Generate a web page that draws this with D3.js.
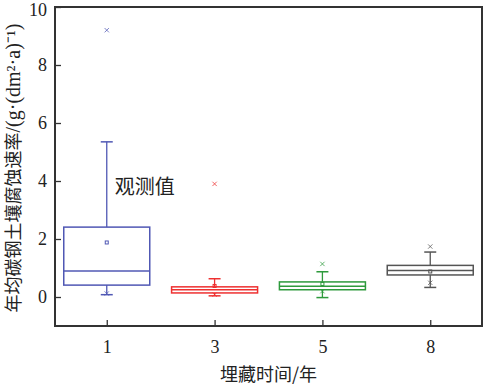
<!DOCTYPE html>
<html>
<head>
<meta charset="utf-8">
<script src="https://cdn.jsdelivr.net/npm/d3@7"></script>
<style>
body { margin: 0; background: #fff; }
text { fill: #222; }
</style>
</head>
<body>
<div id="chart"></div>
<script>
// burial years
var categories = ["1", "3", "5", "8"];
var colors = ["#5058b4", "#ee3030", "#2e9a3c", "#555555"];

// box statistics (corrosion rate)
var q1 = [0.41, 0.14, 0.25, 0.76];
var median = [0.90, 0.25, 0.37, 0.91];
var q3 = [2.41, 0.35, 0.52, 1.09];
var whiskerLow = [0.08, 0.04, -0.02, 0.33];
var whiskerHigh = [5.35, 0.63, 0.87, 1.55];
var means = [1.88, 0.38, 0.45, 0.88];
var highMarks = [9.2, 3.9, 1.14, 1.74];
var lowMarks = [0.12, 0.08, 0.2, 0.49];

var yTicks = [0, 2, 4, 6, 8, 10];

var svgWidth = 488;
var svgHeight = 387;

var margin = { top: 7, right: 6, bottom: 61, left: 55 };
var width = svgWidth - margin.left - margin.right;
var height = svgHeight - margin.top - margin.bottom;

var svg = d3.select("#chart")
    .append("svg")
    .attr("width", svgWidth)
    .attr("height", svgHeight);

var g = svg.append("g")
    .attr("transform", `translate(${margin.left}, ${margin.top})`);

var x = d3.scalePoint()
    .domain(categories)
    .range([0, width])
    .padding(0.48);

var y = d3.scaleLinear()
    .domain([-1, 10])
    .range([height, 0]);

var boxW = 86;
var capW = 12;

// axes with inward ticks
var xAxis = g.append("g")
    .attr("transform", `translate(0, ${height})`)
    .call(d3.axisBottom(x).tickSizeInner(-6).tickSizeOuter(0).tickPadding(14));

var yAxis = g.append("g")
    .call(d3.axisLeft(y).tickValues(yTicks).tickSizeInner(-6).tickSizeOuter(0).tickPadding(8));

[xAxis, yAxis].forEach(function(ax) {
    ax.select(".domain").remove();
    ax.selectAll(".tick line").attr("stroke", "#333").attr("stroke-width", 1.3);
    ax.selectAll(".tick text")
        .attr("font-family", "Liberation Serif, serif")
        .attr("font-size", 18)
        .attr("fill", "#222");
});
// keep the top label inside the page
yAxis.selectAll(".tick text").filter(d => d === 10).attr("dy", "0.45em");

// frame
g.append("rect")
    .attr("x", 0)
    .attr("y", 0)
    .attr("width", width)
    .attr("height", height)
    .attr("fill", "none")
    .attr("stroke", "#333")
    .attr("stroke-width", 2);

var boxes = g.selectAll(".box")
    .data(categories)
    .enter()
    .append("g")
    .attr("class", "box");

boxes.each(function(c, i) {
    var b = d3.select(this);
    var cx = x(c);
    var col = colors[i];

    // whiskers
    b.append("line")
        .attr("x1", cx).attr("x2", cx)
        .attr("y1", y(q3[i])).attr("y2", y(whiskerHigh[i]))
        .attr("stroke", col).attr("stroke-width", 1.3);
    b.append("line")
        .attr("x1", cx).attr("x2", cx)
        .attr("y1", y(q1[i])).attr("y2", y(whiskerLow[i]))
        .attr("stroke", col).attr("stroke-width", 1.3);
    [whiskerHigh[i], whiskerLow[i]].forEach(function(v) {
        b.append("line")
            .attr("x1", cx - capW / 2).attr("x2", cx + capW / 2)
            .attr("y1", y(v)).attr("y2", y(v))
            .attr("stroke", col).attr("stroke-width", 1.5);
    });

    // box
    b.append("rect")
        .attr("x", cx - boxW / 2)
        .attr("y", y(q3[i]))
        .attr("width", boxW)
        .attr("height", y(q1[i]) - y(q3[i]))
        .attr("fill", "none")
        .attr("stroke", col)
        .attr("stroke-width", 1.5);

    // median
    b.append("line")
        .attr("x1", cx - boxW / 2).attr("x2", cx + boxW / 2)
        .attr("y1", y(median[i])).attr("y2", y(median[i]))
        .attr("stroke", col).attr("stroke-width", 1.5);

    // mean
    b.append("rect")
        .attr("x", cx - 1.5).attr("y", y(means[i]) - 1.5)
        .attr("width", 3).attr("height", 3)
        .attr("fill", "none")
        .attr("stroke", col).attr("stroke-width", 1);

    // percentile marks
    [highMarks[i], lowMarks[i]].forEach(function(v) {
        b.append("path")
            .attr("d", d3.symbol(d3.symbolX, 14)())
            .attr("transform", `translate(${cx}, ${y(v)})`)
            .attr("fill", "none")
            .attr("stroke", col)
            .attr("stroke-opacity", 0.75)
            .attr("stroke-width", 1);
    });
});

// annotation
g.append("text")
    .attr("x", x("1") + 8)
    .attr("y", y(3.55))
    .attr("font-family", "Noto Sans CJK SC, sans-serif")
    .attr("font-size", 20)
    .text("观测值");

// axis titles
svg.append("text")
    .attr("x", margin.left + width / 2)
    .attr("y", 381)
    .attr("text-anchor", "middle")
    .attr("font-family", "Noto Sans CJK SC, sans-serif")
    .attr("font-size", 18)
    .text("埋藏时间/年");

var yTitle = svg.append("text")
    .attr("transform", "translate(20, 168) rotate(-90)")
    .attr("text-anchor", "middle")
    .attr("font-size", 18);
yTitle.append("tspan")
    .attr("font-family", "Noto Sans CJK SC, sans-serif")
    .text("年均碳钢土壤腐蚀速率");
yTitle.append("tspan")
    .attr("font-family", "Liberation Serif, serif")
    .attr("font-size", 20)
    .text("/(g·(dm²·a)⁻¹)");
</script>
</body>
</html>
